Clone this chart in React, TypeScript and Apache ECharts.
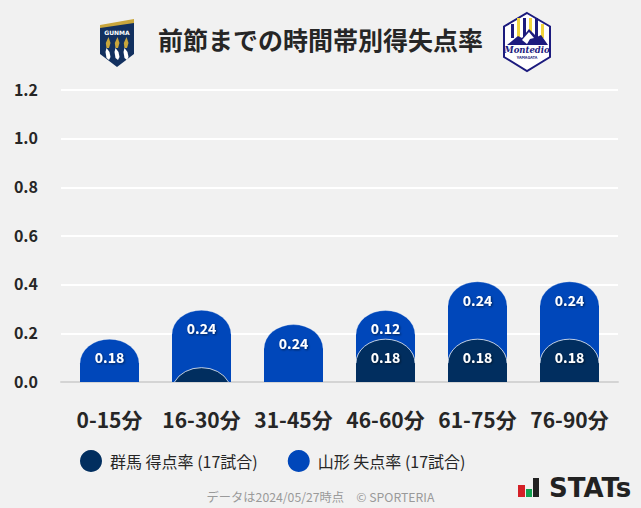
import React, { useEffect, useRef } from "react";
import * as echarts from "echarts";

const categories = ["0-15分", "16-30分", "31-45分", "46-60分", "61-75分", "76-90分"];
const gunmaFor = [0, 0.059, 0, 0.176, 0.176, 0.176];
const yamagataAgainst = [0.176, 0.236, 0.236, 0.118, 0.236, 0.236];
const yTicks = { min: 0, max: 1.2, interval: 0.2 };
const titleText = "前節までの時間帯別得失点率";
const gunmaName = "群馬 得点率 (17試合)";
const yamagataName = "山形 失点率 (17試合)";
const footerText = "データは2024/05/27時点　© SPORTERIA";

const FONT = '"Noto Sans CJK JP", "Noto Sans", sans-serif';
const INK = "#262626";
const DARK = "#012e5f";
const BLUE = "#0047ba";
const BAR_WIDTH = 59;
const CAP_RY = 24;

function dome(params: any, api: any, edge: string, labelMin: number) {
  const idx = api.value(0);
  const total = api.value(1);
  const own = api.value(2);
  if (!(total > 0)) return { type: "group", children: [] };
  const [cx, top] = api.coord([idx, total]);
  const [, base] = api.coord([idx, 0]);
  const rx = BAR_WIDTH / 2;
  const h = base - top;
  const l = cx - rx;
  const r = cx + rx;
  let fill: string;
  let rim: string;
  let rimH: number;
  let rimL = l;
  let rimW = BAR_WIDTH;
  if (h >= CAP_RY) {
    fill = `M${l} ${base}L${l} ${top + CAP_RY}A${rx} ${CAP_RY} 0 0 1 ${r} ${top + CAP_RY}L${r} ${base}Z`;
    rim = `M${l} ${top + CAP_RY}A${rx} ${CAP_RY} 0 0 1 ${r} ${top + CAP_RY}`;
    rimH = CAP_RY;
  } else {
    const k = 1 - h / CAP_RY;
    const c = rx * Math.sqrt(1 - k * k);
    fill = `M${cx - c} ${base}A${rx} ${CAP_RY} 0 0 1 ${cx + c} ${base}Z`;
    rim = fill.replace("Z", "");
    rimH = h;
    rimL = cx - c;
    rimW = 2 * c;
  }
  const color = api.visual("color");
  const children: any[] = [
    {
      type: "path",
      shape: {
        pathData: fill,
        x: rimL,
        y: top,
        width: rimW,
        height: h,
        layout: "cover",
      },
      style: { fill: color },
    },
    {
      type: "path",
      shape: { pathData: rim, x: rimL, y: top, width: rimW, height: rimH, layout: "cover" },
      style: { fill: "none", stroke: edge, lineWidth: 1 },
    },
  ];
  if (own >= labelMin) {
    children.push({
      type: "text",
      style: {
        text: own.toFixed(2),
        x: cx,
        y: top + 18,
        align: "center",
        verticalAlign: "middle",
        fill: "#ffffff",
        font: `bold 14px ${FONT}`,
        textShadowColor: "rgba(0,0,0,0.55)",
        textShadowBlur: 2,
        textShadowOffsetX: 1,
        textShadowOffsetY: 1,
      },
    });
  }
  return { type: "group", children };
}

function buildLogos() {
  const navy = "#1c1b7e";
  const gold = "#c9a63c";
  const flames = [108, 117, 126].flatMap((x) => [
    { type: "polygon", shape: { points: [[x + 0.5, 37], [x + 2.5, 43], [x + 1, 48], [x - 1.5, 48], [x - 2.2, 43]] }, style: { fill: gold } },
    { type: "polygon", shape: { points: [[x - 1.5, 48], [x + 1.5, 52], [x + 2.5, 57], [x + 1, 60], [x - 1.5, 58], [x - 2.5, 52]] }, style: { fill: "#ffffff" } },
  ]);
  const stripeXs = [511, 517, 523, 529, 535, 541];
  const stripes = stripeXs.map((x, i) => ({
    type: "rect",
    shape: { x, y: i === 0 || i === 5 ? 24 : 18, width: 3, height: i === 0 || i === 5 ? 14 : 20 },
    style: { fill: i % 2 === 0 ? navy : "#f2d53c" },
  }));
  return [
    { type: "polygon", shape: { points: [[100, 25], [134, 19], [134, 24], [100, 29]] }, style: { fill: gold } },
    {
      type: "polygon",
      shape: { points: [[100, 28], [134, 23], [134, 54], [117, 67], [100, 54]] },
      style: { fill: "#12305f" },
    },
    { type: "text", style: { text: "GUNMA", x: 117, y: 32, align: "center", verticalAlign: "middle", fill: "#fff", font: `bold 6px "DejaVu Sans", sans-serif` } },
    ...flames,
    {
      type: "polygon",
      shape: { points: [[527, 13], [550, 26.5], [550, 57], [527, 71], [504, 57], [504, 26.5]] },
      style: { fill: "#ffffff", stroke: navy, lineWidth: 2 },
    },
    ...stripes,
    {
      type: "polygon",
      shape: { points: [[507, 45], [518, 36], [522, 38], [529, 29], [537, 37], [541, 35], [548, 45]] },
      style: { fill: navy },
    },
    {
      type: "polygon",
      shape: { points: [[522, 40], [529, 32], [534, 38], [530, 39], [527, 44]] },
      style: { fill: "#ffffff" },
    },
    { type: "text", style: { text: "Montedio", x: 527, y: 50, align: "center", verticalAlign: "middle", fill: navy, font: `italic bold 8.5px "DejaVu Serif", serif` } },
    { type: "text", style: { text: "YAMAGATA", x: 527, y: 57, align: "center", verticalAlign: "middle", fill: navy, font: `bold 4px ${FONT}` } },
  ];
}

function buildStatsLogo() {
  return [
    { type: "rect", shape: { x: 518, y: 485, width: 7, height: 12 }, style: { fill: "#d42027" } },
    { type: "rect", shape: { x: 526, y: 489, width: 6, height: 8 }, style: { fill: "#12a150" } },
    { type: "rect", shape: { x: 533, y: 478, width: 6, height: 19 }, style: { fill: "#222222" } },
    { type: "text", style: { text: "STATs", x: 549, y: 488, verticalAlign: "middle", fill: "#222222", font: 'bold 26px "DejaVu Sans", sans-serif' } },
  ];
}

export default function App() {
  const ref = useRef<HTMLDivElement>(null);
  useEffect(() => {
    const chart = echarts.init(ref.current!, null, { renderer: "svg" });
    const total = yamagataAgainst.map((v, i) => v + gunmaFor[i]);
    chart.setOption({
      animation: false,
      backgroundColor: "#f1f1f1",
      textStyle: { fontFamily: FONT },
      title: {
        text: titleText,
        left: "center",
        top: 21,
        textStyle: { fontFamily: FONT, fontSize: 25, fontWeight: "bold", color: INK },
      },
      legend: {
        left: 75,
        top: 445,
        itemWidth: 22,
        itemHeight: 22,
        itemGap: 30,
        icon: "circle",
        textStyle: { fontFamily: FONT, fontSize: 16, color: INK, padding: [0, 0, 0, 3] },
        data: [gunmaName, yamagataName],
      },
      grid: [
        { left: 61, width: 557, top: 90, height: 292 },
        { left: 63.5, width: 552, top: 90, height: 292 },
      ],
      xAxis: [
        {
          type: "category",
          gridIndex: 0,
          data: categories,
          axisTick: { show: false },
          axisLabel: { show: false },
          axisLine: { lineStyle: { color: "#d4d4d4", width: 2 } },
        },
        {
          type: "category",
          gridIndex: 1,
          data: categories,
          axisTick: { show: false },
          axisLine: { show: false },
          axisLabel: { interval: 0, margin: 26, fontFamily: FONT, fontSize: 21, fontWeight: "bold", color: INK },
        },
      ],
      yAxis: [
        {
          type: "value",
          gridIndex: 0,
          ...yTicks,
          axisLine: { show: false },
          axisTick: { show: false },
          axisLabel: {
            margin: 23,
            fontFamily: FONT,
            fontSize: 16,
            fontWeight: "bold",
            color: INK,
            verticalAlign: "bottom",
            lineHeight: 3,
            formatter: (v: number) => v.toFixed(1),
          },
          splitLine: { lineStyle: { color: "#ffffff", width: 2 } },
        },
        {
          type: "value",
          gridIndex: 1,
          ...yTicks,
          axisLine: { show: false },
          axisTick: { show: false },
          axisLabel: { show: false },
          splitLine: { show: false },
        },
      ],
      series: [
        {
          type: "custom",
          name: yamagataName,
          xAxisIndex: 1,
          yAxisIndex: 1,
          z: 3,
          clip: false,
          itemStyle: { color: BLUE },
          encode: { x: 0, y: 1 },
          data: total.map((t, i) => [i, t, yamagataAgainst[i]]),
          renderItem: (p: any, api: any) => dome(p, api, "rgba(255,255,255,0.3)", 0.01),
        },
        {
          type: "custom",
          name: gunmaName,
          xAxisIndex: 1,
          yAxisIndex: 1,
          z: 4,
          clip: false,
          itemStyle: { color: DARK },
          encode: { x: 0, y: 1 },
          data: gunmaFor.map((v, i) => [i, v, v]),
          renderItem: (p: any, api: any) => dome(p, api, "rgba(255,255,255,0.75)", 0.1),
        },
      ],
      graphic: [
        ...buildLogos(),
        ...buildStatsLogo(),
        {
          type: "text",
          style: {
            text: footerText,
            x: 320.5,
            y: 497,
            align: "center",
            verticalAlign: "middle",
            fill: "#9a9a9a",
            font: `12.25px ${FONT}`,
          },
        },
      ],
    });
    return () => chart.dispose();
  }, []);
  return <div ref={ref} style={{ position: "fixed", left: 0, top: 0, width: 641, height: 508 }} />;
}
